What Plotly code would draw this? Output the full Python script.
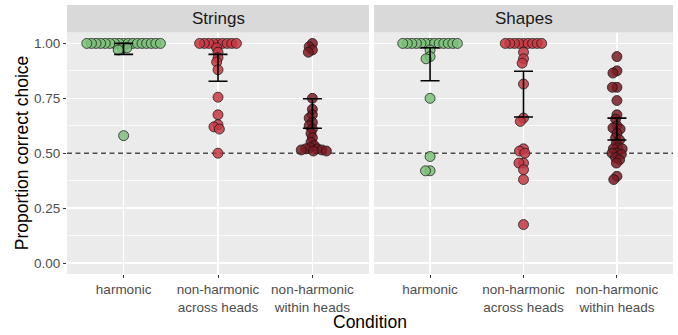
import numpy as np
import plotly.graph_objects as go

# ---------------- data ----------------
facets = ["Strings", "Shapes"]
conditions = ["harmonic", "non-harmonic across heads", "non-harmonic within heads"]
tick_labels = ["harmonic", "non-harmonic<br>across heads", "non-harmonic<br>within heads"]
y_ticks = [0.0, 0.25, 0.5, 0.75, 1.0]
y_tick_labels = ["0.00", "0.25", "0.50", "0.75", "1.00"]
chance_level = 0.5

strings_harmonic = [1.0] * 17 + [0.98, 0.98, 0.97, 0.58]
strings_across = [1.0] * 9 + [0.98, 0.96, 0.935, 0.915, 0.88, 0.755, 0.675,
                              0.63, 0.62, 0.61, 0.5]
strings_within = [1.0, 0.985, 0.97, 0.96, 0.75, 0.70, 0.675, 0.66, 0.64, 0.625,
                  0.61, 0.59, 0.57, 0.55, 0.535, 0.525, 0.52, 0.52, 0.515, 0.515,
                  0.51, 0.51]
shapes_harmonic = [1.0] * 13 + [0.97, 0.94, 0.93, 0.75, 0.485, 0.42, 0.42]
shapes_across = [1.0] * 9 + [0.96, 0.93, 0.91, 0.815, 0.66, 0.645, 0.52, 0.51,
                             0.50, 0.455, 0.455, 0.425, 0.38, 0.175]
shapes_within = [0.94, 0.875, 0.865, 0.80, 0.80, 0.74, 0.675, 0.655, 0.625, 0.615,
                 0.61, 0.59, 0.57, 0.56, 0.545, 0.525, 0.52, 0.52, 0.50, 0.50,
                 0.495, 0.48, 0.47, 0.455, 0.395, 0.38]

# error bar limits per condition (harmonic, across, within)
strings_ci_low = [0.95, 0.828, 0.614]
strings_ci_high = [1.0, 0.95, 0.748]
shapes_ci_low = [0.83, 0.665, 0.56]
shapes_ci_high = [0.98, 0.873, 0.66]

# ---------------- styling ----------------
point_colors = ["rgba(125,192,121,0.85)", "rgba(198,55,66,0.85)", "rgba(121,27,34,0.85)"]
W, H = 678, 335
ML, MR, MT, MB = 67, 5, 5, 61
plot_w = W - ML - MR
plot_h = H - MT - MB
dom1 = [0.0, 302 / plot_w]
dom2 = [307 / plot_w, 1.0]
ydom = [0.0, 0.898]
x_range = [0.4, 3.6]
y_range = [-0.05, 1.05]
xscale = 302 / (x_range[1] - x_range[0])          # px per x unit
yscale = ydom[1] * plot_h / (y_range[1] - y_range[0])  # px per y unit
SPACING = 4.6  # px, swarm collision distance
FONT = "Liberation Sans, Arial, sans-serif"


def swarm(values):
    """Simple beeswarm: offsets (data units) so points are SPACING px apart."""
    vals = np.asarray(values, dtype=float)
    order = np.argsort(-vals, kind="stable")
    placed = []
    offs = np.zeros(len(vals))
    for i in order:
        ypx = vals[i] * yscale
        intervals = []
        for xp, yp in placed:
            dy = abs(ypx - yp)
            if dy < SPACING:
                w = np.sqrt(SPACING ** 2 - dy ** 2)
                intervals.append((xp - w, xp + w))
        cands = [0.0] + [a for a, _ in intervals] + [b for _, b in intervals]
        cands.sort(key=lambda c: (round(abs(c), 6), c))
        chosen = 0.0
        for c in cands:
            if all(not (a + 1e-7 < c < b - 1e-7) for a, b in intervals):
                chosen = c
                break
        placed.append((chosen, ypx))
        offs[i] = chosen / xscale
    return offs


facet_data = {
    "Strings": ([strings_harmonic, strings_across, strings_within],
                strings_ci_low, strings_ci_high),
    "Shapes": ([shapes_harmonic, shapes_across, shapes_within],
               shapes_ci_low, shapes_ci_high),
}

fig = go.Figure()
for fi, facet in enumerate(facets):
    xa = "x" if fi == 0 else "x2"
    ya = "y" if fi == 0 else "y2"
    groups, lo, hi = facet_data[facet]
    # chance-level reference line (below the points)
    fig.add_trace(go.Scatter(
        x=x_range, y=[chance_level, chance_level], mode="lines", xaxis=xa, yaxis=ya,
        line=dict(color="#4D4D4D", width=1.4, dash="5px,3.5px"),
        showlegend=False, hoverinfo="skip"))
    for ci, vals in enumerate(groups):
        xs = (ci + 1) + swarm(vals)
        fig.add_trace(go.Scatter(
            x=xs, y=vals, mode="markers", xaxis=xa, yaxis=ya,
            marker=dict(size=10, color=point_colors[ci],
                        line=dict(color="rgba(20,20,20,0.9)", width=0.8)),
            showlegend=False, hoverinfo="skip"))
    mid = [(a + b) / 2 for a, b in zip(lo, hi)]
    fig.add_trace(go.Scatter(
        x=[1, 2, 3], y=mid, mode="markers", xaxis=xa, yaxis=ya,
        marker=dict(size=1, opacity=0),
        error_y=dict(type="data", symmetric=False,
                     array=[h - m for h, m in zip(hi, mid)],
                     arrayminus=[m - l for m, l in zip(mid, lo)],
                     color="black", thickness=1.6, width=9.5),
        showlegend=False, hoverinfo="skip"))

axis_common = dict(
    showgrid=True, gridcolor="white", gridwidth=1.4, zeroline=False,
    ticks="outside", ticklen=3, tickwidth=1, tickcolor="#333333",
    tickfont=dict(family=FONT, size=13.5, color="#4D4D4D"),
    showline=False, fixedrange=True, automargin=False,
)
minor_grid = dict(tickvals=[0.125, 0.375, 0.625, 0.875], showgrid=True,
                  gridcolor="white", gridwidth=0.7)

fig.update_layout(
    width=W, height=H,
    margin=dict(l=ML, r=MR, t=MT, b=MB, autoexpand=False),
    paper_bgcolor="white", plot_bgcolor="#EBEBEB",
    font=dict(family=FONT, color="#1A1A1A"),
    hovermode=False,
    xaxis=dict(domain=dom1, range=x_range, tickvals=[1, 2, 3], ticktext=tick_labels,
               anchor="y", **axis_common),
    xaxis2=dict(domain=dom2, range=x_range, tickvals=[1, 2, 3], ticktext=tick_labels,
                anchor="y2", **axis_common),
    yaxis=dict(domain=ydom, range=y_range, tickvals=y_ticks, ticktext=y_tick_labels,
               anchor="x", minor=minor_grid, **axis_common),
    yaxis2=dict(domain=ydom, range=y_range, tickvals=y_ticks, anchor="x2",
                minor=minor_grid,
                **{**axis_common, "ticks": "", "showticklabels": False}),
)

shapes = []
annotations = []
for fi, (facet, dom) in enumerate(zip(facets, [dom1, dom2])):
    shapes.append(dict(type="rect", xref="paper", yref="paper",
                       x0=dom[0], x1=dom[1], y0=ydom[1], y1=1.0,
                       fillcolor="#D9D9D9", line=dict(width=0), layer="above"))
    annotations.append(dict(text=facet, xref="paper", yref="paper",
                            x=(dom[0] + dom[1]) / 2, y=(ydom[1] + 1.0) / 2,
                            xanchor="center", yanchor="middle", showarrow=False,
                            font=dict(family=FONT, size=17, color="#1A1A1A")))

annotations.append(dict(text="Proportion correct choice", xref="paper", yref="paper",
                        x=(22 - ML) / plot_w, y=ydom[1] / 2, xanchor="center",
                        yanchor="middle", textangle=-90, showarrow=False,
                        font=dict(family=FONT, size=17.5, color="black")))
annotations.append(dict(text="Condition", xref="paper", yref="paper",
                        x=0.5, y=-(322 - (H - MB)) / plot_h, xanchor="center",
                        yanchor="middle", showarrow=False,
                        font=dict(family=FONT, size=17.5, color="black")))

fig.update_layout(shapes=shapes, annotations=annotations)
fig.write_html(
    "out.html",
    config={"displayModeBar": False, "staticPlot": True},
    post_script="document.body.style.margin='0';document.body.style.overflow='hidden';",
)
